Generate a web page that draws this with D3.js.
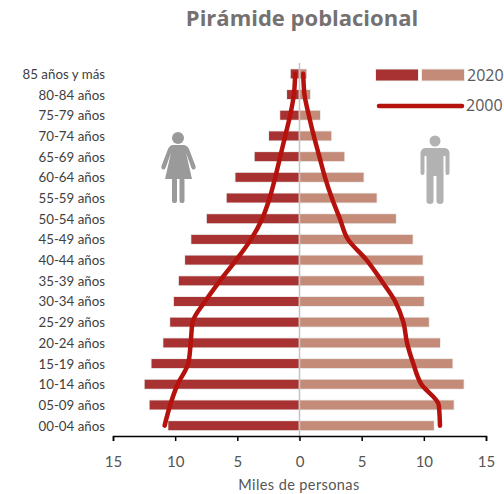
<!DOCTYPE html>
<html>
<head>
<meta charset="utf-8">
<script src="https://cdnjs.cloudflare.com/ajax/libs/d3/7.8.5/d3.min.js"></script>
<style>
    html, body { margin: 0; background: #fff; }
    text { font-family: Lato, sans-serif; }
</style>
</head>
<body>
<div id="chart"></div>
<script>
const ageGroups = ['85 años y más', '80-84 años', '75-79 años', '70-74 años', '65-69 años', '60-64 años',
    '55-59 años', '50-54 años', '45-49 años', '40-44 años', '35-39 años', '30-34 años',
    '25-29 años', '20-24 años', '15-19 años', '10-14 años', '05-09 años', '00-04 años'];
const women2020 = [0.7, 1.0, 1.55, 2.45, 3.6, 5.15, 5.85, 7.45, 8.7, 9.2, 9.7, 10.1, 10.4, 10.95, 11.9, 12.45, 12.05, 10.55];
const men2020 = [0.55, 0.85, 1.65, 2.55, 3.6, 5.15, 6.2, 7.75, 9.1, 9.9, 10, 10, 10.4, 11.3, 12.3, 13.2, 12.4, 10.8];
const women2000 = [0.35, 0.45, 0.75, 1.15, 1.55, 1.95, 2.4, 3.0, 3.9, 5.1, 6.4, 7.6, 8.6, 8.75, 8.95, 9.8, 10.4, 10.85];
const men2000 = [0.3, 0.4, 0.75, 1.15, 1.6, 2.05, 2.6, 3.25, 3.9, 5.4, 6.6, 7.7, 8.35, 8.65, 9.15, 9.8, 11.2, 11.3];
const axisTicks = [-15, -10, -5, 0, 5, 10, 15];

const width = 504, height = 494;
const womenColor = '#a83232', menColor = '#c48c78', lineColor = '#b5120e', haloColor = '#e8e8e8';

const svg = d3.select('#chart').append('svg')
    .attr('width', width)
    .attr('height', height)
    .style('display', 'block');

const x = d3.scaleLinear().domain([-15, 15]).range([113, 486]);
const y = d3.scaleBand().domain(ageGroups).range([63.5, 436]);
const barH = 9;
const cy = i => y(ageGroups[i]) + y.bandwidth() / 2;

svg.append('text')
    .attr('x', 302)
    .attr('y', 26)
    .attr('text-anchor', 'middle')
    .attr('fill', '#767171')
    .style('font-family', '"Open Sans", sans-serif')
    .style('font-weight', 700)
    .style('font-size', '22px')
    .text('Pirámide poblacional');

// bars, with the soft grey edge the original has
function drawBars(values, side, color) {
    svg.append('g').selectAll('rect')
        .data(values)
        .join('rect')
        .attr('x', d => side < 0 ? x(-d) : x(0))
        .attr('y', (d, i) => cy(i) - barH / 2)
        .attr('width', d => x(d) - x(0))
        .attr('height', barH)
        .attr('fill', color)
        .attr('stroke', haloColor)
        .attr('stroke-width', 1.5)
        .attr('paint-order', 'stroke');
}
drawBars(women2020, -1, womenColor);
drawBars(men2020, 1, menColor);

// centre line
svg.append('line')
    .attr('x1', x(0)).attr('x2', x(0))
    .attr('y1', 63).attr('y2', 440)
    .attr('stroke', '#c4c4c4')
    .attr('stroke-width', 1.5);

const line = d3.line()
    .x(d => x(d.v))
    .y(d => cy(d.i))
    .curve(d3.curveMonotoneY);

[[women2000, -1], [men2000, 1]].forEach(([values, side]) => {
    svg.append('path')
        .datum(values.map((v, i) => ({ v: side * v, i })))
        .attr('d', line)
        .attr('fill', 'none')
        .attr('stroke', lineColor)
        .attr('stroke-width', 4.5)
        .attr('stroke-linecap', 'round')
        .attr('stroke-linejoin', 'round');
});

// age labels
svg.append('g').selectAll('text')
    .data(ageGroups)
    .join('text')
    .attr('x', 105)
    .attr('y', d => y(d) + y.bandwidth() / 2 + 5)
    .attr('text-anchor', 'end')
    .attr('fill', '#404040')
    .style('font-size', '13.3px')
    .text(d => d);

// x axis
const xAxis = svg.append('g')
    .attr('transform', 'translate(0,436)')
    .call(d3.axisBottom(x).tickValues(axisTicks).tickSize(5).tickPadding(15).tickFormat(d => Math.abs(d)));
xAxis.select('.domain').attr('stroke', '#000').attr('stroke-width', 1.5);
xAxis.selectAll('.tick line').attr('stroke', '#000').attr('stroke-width', 1.5);
xAxis.selectAll('.tick text')
    .attr('fill', '#555')
    .style('font-family', 'Lato, sans-serif')
    .style('font-size', '15px');

svg.append('text')
    .attr('x', 299)
    .attr('y', 490)
    .attr('text-anchor', 'middle')
    .attr('fill', '#555')
    .style('font-size', '14.5px')
    .style('letter-spacing', '0.4px')
    .text('Miles de personas');

// legend
const legend = svg.append('g');
[[376, womenColor], [422, menColor]].forEach(([lx, color]) => {
    legend.append('rect')
        .attr('x', lx).attr('y', 69.5)
        .attr('width', 42).attr('height', 11)
        .attr('fill', color)
        .attr('stroke', haloColor)
        .attr('stroke-width', 1.5)
        .attr('paint-order', 'stroke');
});
legend.append('line')
    .attr('x1', 379).attr('x2', 462)
    .attr('y1', 106).attr('y2', 106)
    .attr('stroke', lineColor)
    .attr('stroke-width', 4.5)
    .attr('stroke-linecap', 'round');
[['2020', 467, 80.5], ['2000', 466, 110.5]].forEach(([label, lx, ly]) => {
    legend.append('text')
        .attr('x', lx).attr('y', ly)
        .attr('fill', '#595959')
        .style('font-family', '"Open Sans", sans-serif')
        .style('font-size', '16px')
        .text(label);
});

// figures
const woman = svg.append('g').attr('fill', '#9a9a9a');
woman.append('circle').attr('cx', 178).attr('cy', 138).attr('r', 6);
woman.append('path').attr('d', 'M173 145 L183 145 Q187 145 189 149 L195.5 166 Q196 169 194 169.5 Q192.5 170 191.5 168 L186 153 L192 179 L165 179 L171 153 L165.5 168 Q164.5 170 163 169.5 Q161 169 161.5 166 L168 149 Q170 145 173 145 Z');
woman.append('rect').attr('x', 172).attr('y', 178).attr('width', 5).attr('height', 25).attr('rx', 2);
woman.append('rect').attr('x', 179.5).attr('y', 178).attr('width', 5).attr('height', 25).attr('rx', 2);

const man = svg.append('g').attr('fill', '#b2b2b2');
man.append('circle').attr('cx', 435).attr('cy', 141).attr('r', 5.5);
man.append('path').attr('d', 'M426 148 L444 148 Q449 148 449.5 153 L449.5 173 Q449.5 175 447.5 175 Q445.5 175 445.5 173 L445.5 156 L443.5 156 L443.5 201 Q443.5 204 440 204 Q436.5 204 436.5 201 L436.5 176 L433.5 176 L433.5 201 Q433.5 204 430 204 Q426.5 204 426.5 201 L426.5 156 L424.5 156 L424.5 173 Q424.5 175 422.5 175 Q420.5 175 420.5 173 L420.5 153 Q421 148 426 148 Z');
</script>
</body>
</html>
